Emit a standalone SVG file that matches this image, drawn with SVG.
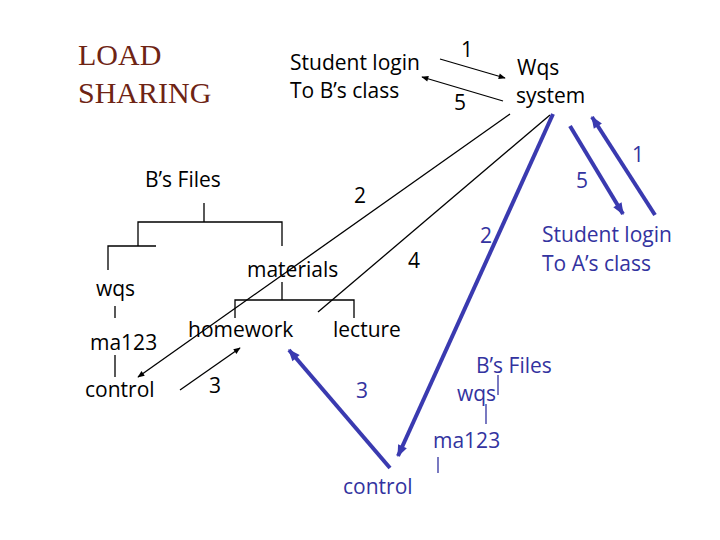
<svg xmlns="http://www.w3.org/2000/svg" width="720" height="540" viewBox="0 0 720 540">
<style>
text{font-family:"Open Sans","DejaVu Sans",sans-serif;font-size:21px;fill:#000}
.b{fill:#3333a0}
.t{font-family:"Liberation Serif",serif;font-size:30px;fill:#6e2414}
.k{stroke:#000;stroke-width:1.3;fill:none}
.kb{stroke:#3333a0;stroke-width:1.3;fill:none}
.bl{stroke:#3a3ab0;stroke-width:4;fill:none}
</style>
<defs>
<marker id="ak" viewBox="0 0 10 10" refX="9" refY="5" markerWidth="9" markerHeight="7" orient="auto" markerUnits="userSpaceOnUse"><path d="M0,1L10,5L0,9z" fill="#000"/></marker>
<marker id="ab" viewBox="0 0 10 10" refX="9" refY="5" markerWidth="14" markerHeight="12" orient="auto" markerUnits="userSpaceOnUse"><path d="M0,1L10,5L0,9z" fill="#3a3ab0"/></marker>
</defs>
<rect width="720" height="540" fill="#fff"/>
<g id="title"><text class="t" x="78" y="65">LOAD</text><text class="t" x="78" y="103">SHARING</text></g>
<g id="login-b"><text x="290" y="70">Student login</text><text x="290" y="98">To B’s class</text></g>
<g id="wqs-system"><text x="517" y="75">Wqs</text><text x="516" y="103">system</text></g>
<g id="login-a"><text class="b" x="542" y="242">Student login</text><text class="b" x="542" y="271">To A’s class</text></g>
<g id="tree-b">
<text x="145" y="187">B’s Files</text>
<path class="k" d="M204,203V222M138,246V222H282V246M108,270V246H156M115,306V318M115,355V377M282,282V300M235,318V300H354V318"/>
<text x="96" y="296">wqs</text>
<text x="90" y="350">ma123</text>
<text x="85" y="397">control</text>
<text x="247" y="277">materials</text>
<text x="188" y="337">homework</text>
<text x="333" y="337">lecture</text>
</g>
<g id="tree-a">
<text class="b" x="476" y="373">B’s Files</text>
<path class="kb" d="M498,375V395M486,404V424M438,457V473"/>
<text class="b" x="457" y="401">wqs</text>
<text class="b" x="433" y="448">ma123</text>
<text class="b" x="343" y="494">control</text>
</g>
<g id="connectors">
<line class="k" x1="440" y1="59" x2="505" y2="78" marker-end="url(#ak)"/>
<line class="k" x1="503" y1="101" x2="422" y2="77" marker-end="url(#ak)"/>
<line class="k" x1="510" y1="114" x2="138" y2="377" marker-end="url(#ak)"/>
<line class="k" x1="550" y1="115" x2="318" y2="312"/>
<line class="k" x1="180" y1="390" x2="240" y2="348" marker-end="url(#ak)"/>
<line class="bl" x1="553" y1="114" x2="398" y2="456" marker-end="url(#ab)"/>
<line class="bl" x1="390" y1="468" x2="289" y2="350" marker-end="url(#ab)"/>
<line class="bl" x1="570" y1="126" x2="623" y2="214" marker-end="url(#ab)"/>
<line class="bl" x1="655" y1="215" x2="592" y2="117" marker-end="url(#ab)"/>
<text x="461" y="57">1</text>
<text x="454" y="110">5</text>
<text x="354" y="203">2</text>
<text x="408" y="268">4</text>
<text x="209" y="393">3</text>
<text class="b" x="356" y="398">3</text>
<text class="b" x="480" y="243">2</text>
<text class="b" x="576" y="188">5</text>
<text class="b" x="632" y="162">1</text>
</g>
</svg>
